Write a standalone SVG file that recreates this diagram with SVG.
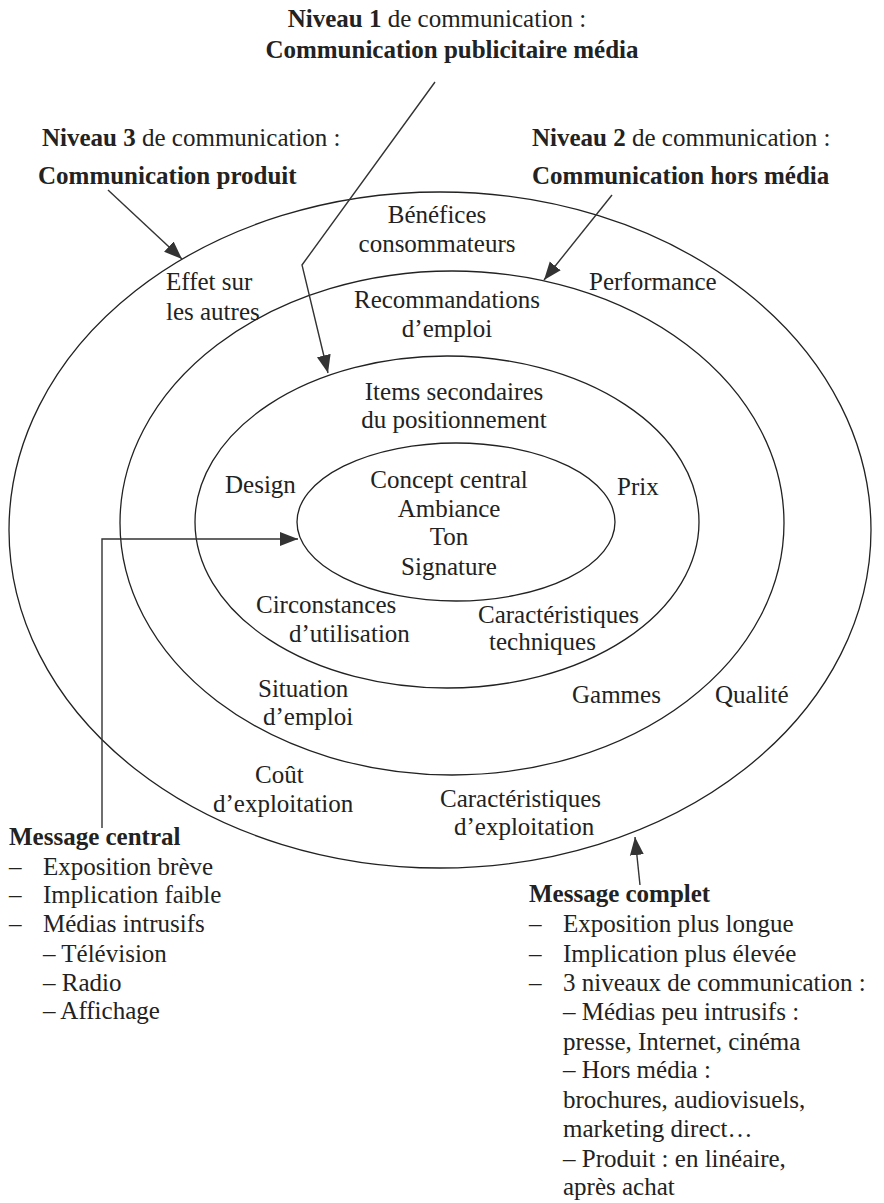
<svg xmlns="http://www.w3.org/2000/svg" width="884" height="1203" viewBox="0 0 884 1203">
<style>
text{font-family:"Liberation Serif","Times New Roman",serif;font-size:25px;fill:#222}
.b{font-weight:bold}
.m{text-anchor:middle}
.ring{fill:none;stroke:#222;stroke-width:1.3}
.conn{fill:none;stroke:#333;stroke-width:1.4}
</style>
<defs>
<marker id="ah" markerUnits="userSpaceOnUse" markerWidth="20" markerHeight="16" viewBox="0 0 20 16" refX="18" refY="8" orient="auto">
<path d="M0,1 L18,8 L0,15 Z" fill="#333"/>
</marker>
</defs>
<rect width="884" height="1203" fill="#fff"/>
<g id="rings">
<ellipse id="ring-outer" class="ring" cx="440" cy="530" rx="431" ry="338"/>
<ellipse id="ring-2" class="ring" cx="452" cy="523" rx="332" ry="252"/>
<ellipse id="ring-3" class="ring" cx="447" cy="522" rx="252" ry="166"/>
<ellipse id="ring-inner" class="ring" cx="456" cy="522" rx="159" ry="79"/>
</g>
<g id="connectors">
<path class="conn" d="M108,190 L182,259" marker-end="url(#ah)"/>
<path class="conn" d="M435,82 L302,265 L328,373" marker-end="url(#ah)"/>
<path class="conn" d="M612,195 L544,280" marker-end="url(#ah)"/>
<path class="conn" d="M102,828 L102,539 L298,539" marker-end="url(#ah)"/>
<path class="conn" d="M640,885 L635,837" marker-end="url(#ah)"/>
</g>
<g id="niveau1">
<text class="m" x="437" y="27"><tspan class="b">Niveau 1</tspan> de communication :</text>
<text class="m b" x="452" y="58">Communication publicitaire média</text>
</g>
<g id="niveau3">
<text x="42" y="146"><tspan class="b">Niveau 3</tspan> de communication :</text>
<text class="b" x="38" y="184">Communication produit</text>
</g>
<g id="niveau2">
<text x="532" y="146"><tspan class="b">Niveau 2</tspan> de communication :</text>
<text class="b" x="532" y="184">Communication hors média</text>
</g>
<g id="labels-outer">
<text class="m" x="437" y="223">Bénéfices</text>
<text class="m" x="437" y="252">consommateurs</text>
<text x="166" y="290">Effet sur</text>
<text x="166" y="320">les autres</text>
<text x="589" y="290">Performance</text>
<text x="715" y="703">Qualité</text>
<text x="255" y="783">Coût</text>
<text x="213" y="812">d’exploitation</text>
<text x="440" y="807">Caractéristiques</text>
<text x="454" y="835">d’exploitation</text>
</g>
<g id="labels-2">
<text class="m" x="447" y="308">Recommandations</text>
<text class="m" x="447" y="337">d’emploi</text>
<text x="258" y="697">Situation</text>
<text x="263" y="725">d’emploi</text>
<text x="572" y="703">Gammes</text>
</g>
<g id="labels-3">
<text class="m" x="454" y="400">Items secondaires</text>
<text class="m" x="454" y="428">du positionnement</text>
<text x="225" y="493">Design</text>
<text x="617" y="495">Prix</text>
<text x="256" y="613">Circonstances</text>
<text x="289" y="642">d’utilisation</text>
<text x="478" y="623">Caractéristiques</text>
<text x="489" y="650">techniques</text>
</g>
<g id="core">
<text class="m" x="449" y="488">Concept central</text>
<text class="m" x="449" y="517">Ambiance</text>
<text class="m" x="449" y="545">Ton</text>
<text class="m" x="449" y="575">Signature</text>
</g>
<g id="message-central">
<text class="b" x="9" y="845">Message central</text>
<text x="9" y="875">–</text><text x="43" y="875">Exposition brève</text>
<text x="9" y="903">–</text><text x="43" y="903">Implication faible</text>
<text x="9" y="932">–</text><text x="43" y="932">Médias intrusifs</text>
<text x="43" y="962">– Télévision</text>
<text x="43" y="991">– Radio</text>
<text x="43" y="1019">– Affichage</text>
</g>
<g id="message-complet">
<text class="b" x="529" y="902">Message complet</text>
<text x="529" y="932">–</text><text x="563" y="932">Exposition plus longue</text>
<text x="529" y="962">–</text><text x="563" y="962">Implication plus élevée</text>
<text x="529" y="991">–</text><text x="563" y="991">3 niveaux de communication :</text>
<text x="563" y="1020">– Médias peu intrusifs :</text>
<text x="563" y="1050">presse, Internet, cinéma</text>
<text x="563" y="1078">– Hors média :</text>
<text x="563" y="1108">brochures, audiovisuels,</text>
<text x="563" y="1137">marketing direct…</text>
<text x="563" y="1167">– Produit : en linéaire,</text>
<text x="563" y="1195">après achat</text>
</g>
</svg>
